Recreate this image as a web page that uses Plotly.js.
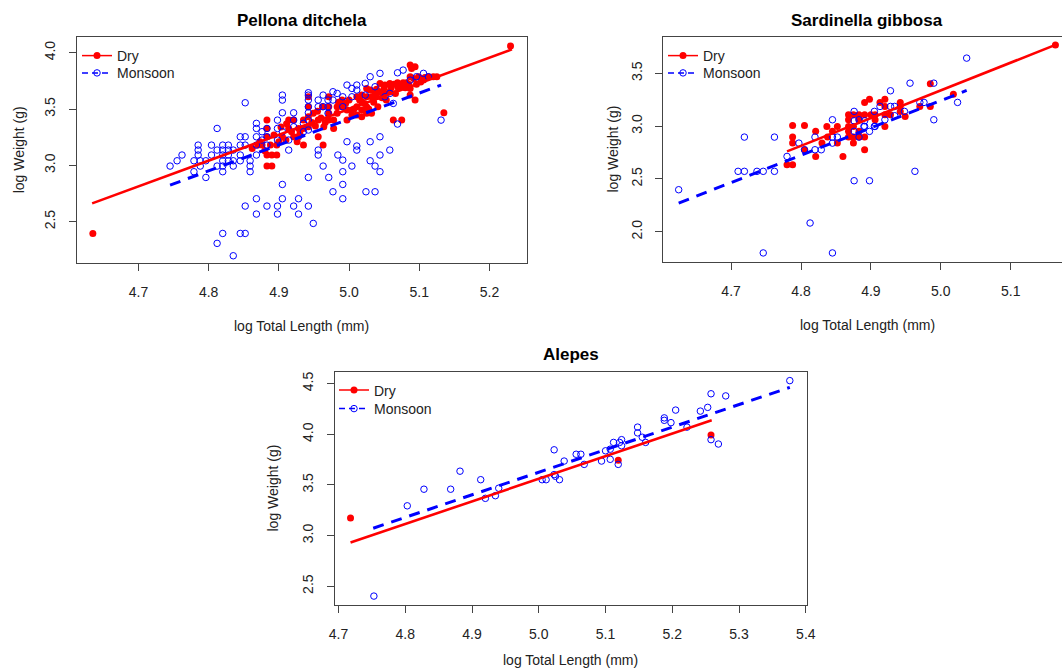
<!DOCTYPE html>
<html><head><meta charset="utf-8">
<script src="https://cdn.plot.ly/plotly-3.0.1.min.js"></script>
<style>html,body{margin:0;padding:0;background:#fff;}#chart{width:1062px;height:670px;}</style>
</head><body><div id="chart"></div>
<script>
// ---------- Pellona ditchela ----------
const pdMonX = [
 4.745,4.755,4.762,4.779,4.779,4.785,4.785,4.785,4.788,4.788,4.796,4.796,
 4.804,4.804,4.812,4.812,4.812,4.820,4.820,4.820,4.820,4.820,4.820,
 4.828,4.828,4.828,4.828,4.835,4.835,4.835,4.845,4.845,4.845,4.845,
 4.852,4.852,4.852,4.859,4.859,4.859,4.868,4.868,4.868,4.868,4.868,
 4.876,4.876,4.883,4.883,4.883,4.898,4.898,4.898,4.905,4.905,4.905,4.905,
 4.914,4.914,4.921,4.921,4.921,4.935,4.935,4.942,4.942,4.942,4.942,4.942,4.942,4.942,
 4.956,4.956,4.956,4.956,4.963,4.963,4.963,4.970,4.970,4.970,4.977,4.977,4.983,4.984,
 4.991,4.991,4.991,4.997,4.997,5.004,5.004,5.011,5.011,5.011,5.011,5.023,5.023,
 5.030,5.030,5.037,5.044,5.044,5.051,5.058,5.063,5.069,5.069,5.077,5.087,5.096,5.106,5.113,5.131,
 4.942,4.971,4.991,4.991,5.004,5.030,5.037,5.044,5.044,5.058,5.024,5.037,4.977,4.991,
 4.905,4.905,4.868,4.852,4.868,4.883,4.898,4.898,4.921,4.928,4.928,4.942,4.949,
 4.812,4.820,4.845,4.852,4.835];
const pdMonY = [
 2.994,3.041,3.092,3.041,2.944,3.180,3.136,3.092,3.041,2.994,3.041,2.893,
 3.180,3.092,3.328,3.136,2.994,3.180,3.136,3.092,3.041,2.994,2.944,
 3.180,3.136,3.092,3.041,3.136,3.041,2.994,3.254,3.180,3.092,3.041,
 3.556,3.254,3.180,3.041,2.994,2.944,3.373,3.328,3.254,3.180,3.092,
 3.299,3.225,3.328,3.254,3.180,3.402,3.328,3.225,3.624,3.580,3.467,3.299,
 3.136,3.225,3.467,3.402,3.343,3.373,3.299,3.645,3.624,3.580,3.521,3.467,3.402,3.314,
 3.580,3.521,3.136,3.092,3.624,3.521,2.994,3.580,3.521,3.462,3.654,3.580,3.639,3.092,
 3.609,3.521,3.047,3.713,3.210,3.683,3.609,3.713,3.669,3.172,3.136,3.728,3.624,
 3.787,3.210,3.698,3.817,3.254,3.609,3.639,3.550,3.822,3.367,3.846,3.757,3.787,3.817,3.787,3.402,
 2.893,2.893,2.944,2.831,2.994,3.041,2.994,3.092,2.944,3.136,2.766,2.766,2.766,2.704,
 2.831,2.704,2.704,2.639,2.568,2.639,2.639,2.568,2.639,2.704,2.568,2.639,2.485,
 2.308,2.396,2.396,2.396,2.198];
const pdDryX = [
 4.635,5.230,5.135,5.075,
 4.883,4.883,4.883,4.888,4.883,4.890,4.883,4.890,4.876,4.897,4.897,
 4.905,4.914,4.914,4.921,4.921,4.928,4.928,4.935,4.935,4.935,
 4.942,4.942,4.942,4.942,4.949,4.956,4.956,4.963,4.964,
 4.971,4.971,4.971,4.971,4.978,4.978,4.983,4.983,4.990,4.990,4.997,4.997,
 5.004,5.004,5.011,5.011,5.011,5.018,5.018,5.018,5.018,5.025,5.025,5.025,5.025,
 5.032,5.032,5.039,5.039,5.044,5.044,5.051,5.051,5.058,5.058,5.066,5.069,
 5.077,5.082,5.087,5.087,5.092,5.099,5.106,5.113,5.120,5.125,5.087,5.089,5.094,5.087,5.094,5.063,
 4.900,4.910,4.918,4.926,4.930,4.947,4.952,4.960,4.966,4.985,4.995,5.000,5.007,5.015,
 5.022,5.028,5.035,5.041,5.047,5.053,5.060,5.070,5.075,5.080,5.085,5.096,5.102,5.108,
 4.862,4.870,4.873,4.880,4.893,4.903,4.911,4.955,4.962,5.030,5.037,5.050,5.064];
const pdDryY = [
 2.396,4.059,3.467,3.402,
 3.402,3.328,3.254,3.180,3.092,3.092,2.994,2.994,3.180,3.180,3.092,
 3.254,3.402,3.328,3.402,3.254,3.328,3.254,3.180,3.328,3.402,
 3.609,3.521,3.432,3.343,3.462,3.402,3.254,3.180,3.343,
 3.609,3.521,3.462,3.402,3.328,3.402,3.521,3.462,3.580,3.521,3.491,3.402,
 3.491,3.447,3.609,3.521,3.447,3.624,3.565,3.491,3.432,3.683,3.609,3.521,3.462,
 3.609,3.462,3.675,3.609,3.728,3.654,3.713,3.639,3.728,3.654,3.639,3.734,
 3.734,3.734,3.787,3.683,3.772,3.787,3.757,3.787,3.787,3.787,3.891,3.861,3.876,3.624,3.580,3.402,
 3.210,3.225,3.299,3.210,3.280,3.380,3.350,3.420,3.380,3.560,3.550,3.580,3.500,3.580,
 3.550,3.500,3.560,3.520,3.600,3.580,3.690,3.690,3.700,3.690,3.720,3.720,3.740,3.780,
 3.150,3.180,3.210,3.130,3.270,3.340,3.370,3.480,3.520,3.670,3.640,3.690,3.720];
const pdDryLineX = [4.634, 5.232], pdDryLineY = [2.663, 4.030];
const pdMonLineX = [4.745, 5.131], pdMonLineY = [2.825, 3.713];

// ---------- Sardinella gibbosa ----------
const sgMonX = [
 4.625,4.710,4.719,4.719,4.737,4.746,4.746,4.762,4.762,4.780,4.797,4.805,
 4.813,4.820,4.820,4.829,4.845,4.845,4.845,4.845,4.852,4.876,4.876,4.876,
 4.883,4.883,4.890,4.898,4.898,4.905,4.905,4.913,4.920,4.928,4.928,4.934,4.934,
 4.948,4.956,4.963,4.970,4.976,4.990,4.990,5.024,5.037,4.876,4.891,4.891,4.906];
const sgMonY = [
 2.398,2.572,2.896,2.572,2.572,2.572,1.800,2.896,2.572,2.713,2.839,2.776,
 2.083,2.896,2.776,2.776,3.060,2.896,2.839,1.800,2.896,3.139,2.950,2.483,
 3.060,2.896,2.997,2.950,2.483,3.139,2.997,3.186,3.060,3.334,3.186,3.186,3.098,
 3.139,3.406,2.572,3.224,3.224,3.406,3.060,3.224,3.643,3.050,3.050,2.997,2.997];
const sgDryX = [
 4.788,4.805,4.788,4.788,4.821,4.805,4.780,4.788,4.837,4.845,4.852,4.830,
 4.838,4.852,4.860,4.868,4.868,4.868,4.868,4.868,4.875,4.875,4.875,4.875,
 4.883,4.883,4.883,4.883,4.891,4.891,4.891,4.891,4.898,4.900,4.906,4.906,
 4.913,4.920,4.920,4.920,4.920,4.928,4.942,4.942,4.942,4.949,4.970,4.985,4.985,5.018,5.164,4.821];
const sgDryY = [
 3.006,3.006,2.896,2.839,2.950,2.776,2.635,2.635,2.997,2.950,2.997,2.839,
 2.896,2.839,2.713,3.107,3.060,2.997,2.950,2.896,3.107,2.997,2.896,2.839,
 3.107,3.060,2.950,2.896,3.107,2.896,2.776,3.224,3.255,3.107,3.107,3.060,
 3.224,3.255,3.186,3.107,2.997,3.107,3.224,3.186,3.139,3.091,3.186,3.400,3.186,3.302,3.768,2.713];
const sgDryLineX = [4.780, 5.164], sgDryLineY = [2.761, 3.768];
const sgMonLineX = [4.625, 5.037], sgMonLineY = [2.272, 3.337];

// ---------- Alepes ----------
const alMonX = [
 4.753,4.803,4.828,4.868,4.882,4.913,4.920,4.935,4.940,5.005,5.011,5.023,
 5.023,5.025,5.031,5.038,5.056,5.063,5.068,5.094,5.100,5.107,5.107,5.112,
 5.119,5.121,5.124,5.124,5.148,5.148,5.155,5.160,5.188,5.188,5.198,5.205,
 5.222,5.242,5.253,5.258,5.258,5.269,5.280,5.376];
const alMonY = [
 2.403,3.294,3.458,3.458,3.636,3.552,3.368,3.394,3.468,3.552,3.552,3.847,
 3.602,3.585,3.552,3.736,3.803,3.803,3.703,3.736,3.837,3.853,3.753,3.920,
 3.703,3.920,3.947,3.887,4.071,4.014,3.971,3.920,4.162,4.138,4.115,4.239,
 4.071,4.229,4.266,4.400,3.947,3.904,4.379,4.530];
const alDryX = [4.718, 5.119, 5.258];
const alDryY = [3.173, 3.743, 3.994];
const alDryLineX = [4.718, 5.259], alDryLineY = [2.932, 4.138];
const alMonLineX = [4.752, 5.376], alMonLineY = [3.073, 4.463];

const panelTitles = ['Pellona ditchela', 'Sardinella gibbosa', 'Alepes'];
const xTitle = 'log Total Length (mm)';
const yTitle = 'log Weight (g)';
const seriesNames = ['Dry', 'Monsoon'];

// ---------- drawing ----------
const W = 1062, H = 670;
const px = v => v / W, py = v => 1 - v / H;
const RED = '#ff0000', BLUE = '#0000ff';

function dryPts(x, y, xa, ya) {
  return {type:'scatter', mode:'markers', x, y, xaxis:xa, yaxis:ya, showlegend:false, hoverinfo:'skip',
    marker:{symbol:'circle', size:7, color:RED, line:{width:0}}};
}
function monPts(x, y, xa, ya) {
  return {type:'scatter', mode:'markers', x, y, xaxis:xa, yaxis:ya, showlegend:false, hoverinfo:'skip',
    marker:{symbol:'circle-open', size:6.5, color:BLUE, line:{width:1, color:BLUE}}};
}
function dryLine(x, y, xa, ya) {
  return {type:'scatter', mode:'lines', x, y, xaxis:xa, yaxis:ya, showlegend:false, hoverinfo:'skip',
    line:{color:RED, width:2.6}};
}
function monLine(x, y, xa, ya) {
  return {type:'scatter', mode:'lines', x, y, xaxis:xa, yaxis:ya, showlegend:false, hoverinfo:'skip',
    line:{color:BLUE, width:3, dash:'11px,8px'}};
}
function legDry(leg, xa, ya) {
  return {type:'scatter', mode:'lines+markers', x:[null], y:[null], xaxis:xa, yaxis:ya, name:seriesNames[0], legend:leg,
    line:{color:RED, width:1.5}, marker:{symbol:'circle', size:7, color:RED}};
}
function legMon(leg, xa, ya) {
  return {type:'scatter', mode:'lines+markers', x:[null], y:[null], xaxis:xa, yaxis:ya, name:seriesNames[1], legend:leg,
    line:{color:BLUE, width:1.5, dash:'6px,4px'}, marker:{symbol:'circle-open', size:6.5, color:BLUE, line:{width:1,color:BLUE}}};
}

const data = [
  dryPts(pdDryX, pdDryY, 'x', 'y'), monPts(pdMonX, pdMonY, 'x', 'y'),
  dryLine(pdDryLineX, pdDryLineY, 'x', 'y'), monLine(pdMonLineX, pdMonLineY, 'x', 'y'),
  dryPts(sgDryX, sgDryY, 'x2', 'y2'), monPts(sgMonX, sgMonY, 'x2', 'y2'),
  dryLine(sgDryLineX, sgDryLineY, 'x2', 'y2'), monLine(sgMonLineX, sgMonLineY, 'x2', 'y2'),
  dryPts(alDryX, alDryY, 'x3', 'y3'), monPts(alMonX, alMonY, 'x3', 'y3'),
  dryLine(alDryLineX, alDryLineY, 'x3', 'y3'), monLine(alMonLineX, alMonLineY, 'x3', 'y3'),
  legDry('legend', 'x', 'y'), legMon('legend2', 'x', 'y'),
  legDry('legend3', 'x2', 'y2'), legMon('legend4', 'x2', 'y2'),
  legDry('legend5', 'x3', 'y3'), legMon('legend6', 'x3', 'y3')
];

const FONT = 'Liberation Sans, Arial, sans-serif';
function xax(domain, range, anchor) {
  return {domain, range, anchor, showline:true, linecolor:'#444', linewidth:1, mirror:true,
    ticks:'outside', ticklen:7, tickcolor:'#444', tickwidth:1, tick0:4.7, dtick:0.1, tickformat:'.1f',
    showgrid:false, zeroline:false, tickfont:{size:14, color:'#222'}, ticklabelstandoff:9, fixedrange:true};
}
function yax(domain, range, anchor, mirror) {
  return {domain, range, anchor, showline:true, linecolor:'#444', linewidth:1, mirror:mirror,
    ticks:'outside', ticklen:7, tickcolor:'#444', tickwidth:1, tick0:2.0, dtick:0.5, tickformat:'.1f',
    tickangle:-90, showgrid:false, zeroline:false, tickfont:{size:14, color:'#222'}, ticklabelstandoff:8, fixedrange:true};
}
function leg(x, y) {
  return {x:px(x), y:py(y), xanchor:'left', yanchor:'middle', bgcolor:'rgba(0,0,0,0)', borderwidth:0,
    font:{size:14, color:'#222', family:FONT}};
}
function ann(text, x, y, opts) {
  return Object.assign({text, x:px(x), y:py(y), xref:'paper', yref:'paper', showarrow:false,
    xanchor:'center', yanchor:'middle', font:{size:14, color:'#222', family:FONT}}, opts || {});
}
const TF = {size:17, color:'#000', family:FONT, weight:'bold'};

const layout = {
  width:W, height:H, margin:{l:0, r:0, t:0, b:0}, paper_bgcolor:'#fff', plot_bgcolor:'#fff',
  font:{family:FONT, color:'#222'}, hovermode:false, showlegend:true,
  xaxis: xax([px(76.7), px(526.7)], [4.612, 5.253], 'y'),
  yaxis: yax([py(263.3), py(37.3)], [2.131, 4.137], 'x', true),
  xaxis2: xax([px(663.3), 1], [4.603, 5.1734], 'y2'),
  yaxis2: yax([py(261.7), py(37.3)], [1.717, 3.84], 'x2', false),
  xaxis3: xax([px(334.5), px(806.5)], [4.694, 5.401], 'y3'),
  yaxis3: yax([py(605), py(372)], [2.315, 4.615], 'x3', true),
  legend: leg(77, 56), legend2: leg(77, 73.3),
  legend3: leg(663, 56), legend4: leg(663, 73.3),
  legend5: leg(334, 390.5), legend6: leg(334, 409),
  annotations: [
    ann(panelTitles[0], 301.7, 20.7, {font:TF}),
    ann(panelTitles[1], 867, 20.7, {font:TF}),
    ann(panelTitles[2], 570.5, 354, {font:TF}),
    ann(xTitle, 301.7, 326),
    ann(xTitle, 867, 325),
    ann(xTitle, 570.5, 660),
    ann(yTitle, 19, 150.3, {textangle:-90}),
    ann(yTitle, 612, 149.5, {textangle:-90}),
    ann(yTitle, 272, 488.5, {textangle:-90})
  ]
};

Plotly.newPlot('chart', data, layout, {displayModeBar:false, staticPlot:true});
</script>
</body></html>
